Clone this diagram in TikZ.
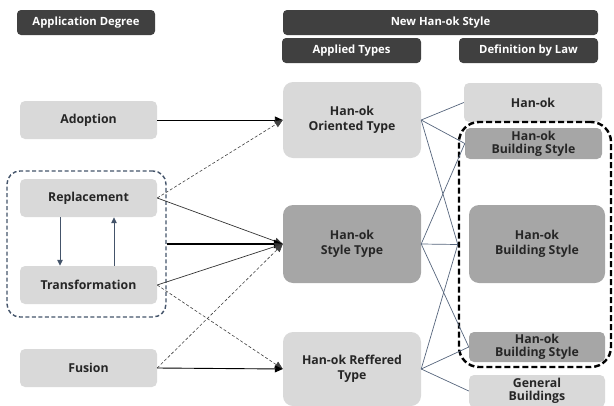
\documentclass[tikz,border=0pt]{standalone}
\usepackage{fontspec}
\setmainfont{Open Sans}
\usetikzlibrary{arrows.meta}
\definecolor{hdr}{HTML}{404040}
\definecolor{lgray}{HTML}{D9D9D9}
\definecolor{dgray}{HTML}{A6A6A6}
\definecolor{slate}{HTML}{44546A}
\definecolor{linkc}{HTML}{56657C}
\definecolor{txt}{HTML}{262626}
\begin{document}
\begin{tikzpicture}[x=1pt,y=-1pt,
  box/.style={rectangle,rounded corners=5pt,inner sep=0pt,align=center,
     font=\fontsize{12.3}{15}\selectfont\bfseries,text=txt},
  hbox/.style={box,fill=hdr,text=white,rounded corners=4pt,font=\fontsize{11.3}{13}\selectfont\bfseries},
  lbox/.style={box,fill=lgray},
  dbox/.style={box,fill=dgray},
  sbox/.style={font=\fontsize{12.3}{12.8}\selectfont\bfseries},
  arr/.style={-{Triangle[length=8pt,width=7pt]},draw=black,line width=0.9pt},
  darr/.style={-{Triangle[length=8pt,width=7pt]},draw=black!75,line width=0.6pt,dash pattern=on 3pt off 2pt},
  sarr/.style={-{Triangle[length=8pt,width=7pt]},draw=black!80,line width=0.7pt},
  link/.style={draw=linkc,line width=0.7pt},
  garr/.style={-{Triangle[length=6pt,width=5.5pt]},draw=slate,line width=1pt}
]
\useasboundingbox (0,0) rectangle (614,405);
% headers
\node[hbox,minimum width=138,minimum height=25] (hdrA) at (86,22.5) {Application Degree};
\node[hbox,minimum width=315,minimum height=25] (hdrN) at (440.5,22.5) {New Han-ok Style};
\node[hbox,minimum width=139,minimum height=25] (hdrT) at (351.5,50.5) {Applied Types};
\node[hbox,minimum width=139,minimum height=25] (hdrL) at (528.5,50.5) {Definition by Law};
% left column
\node[lbox,minimum width=137,minimum height=38] (adopt) at (88.5,120) {Adoption};
\node[lbox,minimum width=137,minimum height=38] (repl) at (88.5,198) {Replacement};
\node[lbox,minimum width=137,minimum height=38] (trans) at (88.5,285) {Transformation};
\node[lbox,minimum width=137,minimum height=38] (fusion) at (88.5,368) {Fusion};
\node[draw=slate,dash pattern=on 4pt off 2.5pt,line width=1.4pt,rounded corners=13pt,minimum width=159,minimum height=146,inner sep=0pt] (grp) at (86.5,244) {};
% middle column
\node[lbox,rounded corners=10pt,minimum width=138,minimum height=76] (orient) at (352,120) {Han-ok\\Oriented Type};
\node[dbox,rounded corners=10pt,minimum width=138,minimum height=78] (style) at (352,244) {Han-ok\\Style Type};
\node[lbox,rounded corners=10pt,minimum width=138,minimum height=74] (reff) at (352,369) {Han-ok Reffered\\Type};
% right column
\node[lbox,minimum width=138,minimum height=39] (hanok) at (533,102.5) {Han-ok};
\node[dbox,sbox,minimum width=137,minimum height=31] (topbs) at (533.5,143.5) {Han-ok\\Building Style};
\node[dbox,rounded corners=10pt,minimum width=136,minimum height=78] (midbs) at (537,244) {Han-ok\\Building Style};
\node[dbox,sbox,minimum width=136,minimum height=30] (botbs) at (537,347) {Han-ok\\Building Style};
\node[lbox,sbox,minimum width=136,minimum height=32] (gen) at (537,391) {General\\Buildings};
\node[draw=black,dash pattern=on 6pt off 3pt,line width=2.4pt,rounded corners=20pt,minimum width=152,minimum height=245,inner sep=0pt] (lawgrp) at (535,244.5) {};
% group internal arrows
\draw[garr] ([xshift=-28.5pt]repl.south) -- ([xshift=-28.5pt]trans.north);
\draw[garr] ([xshift=25.5pt]trans.north) -- ([xshift=25.5pt]repl.south);
% left to middle
\draw[arr] (adopt.east) -- (orient.west);
\draw[darr] (repl.east) -- (orient.west);
\draw[sarr] (repl.east) -- (style.west);
\draw[-{Triangle[length=9pt,width=8pt]},line width=2.4pt] (grp.east) -- (style.west);
\draw[sarr] (trans.east) -- (style.west);
\draw[darr] (trans.east) -- (reff.west);
\draw[darr] (fusion.east) -- (style.west);
\draw[arr] (fusion.east) -- (reff.west);
% middle to right
\draw[link] (orient.east) -- (hanok.west);
\draw[link] (orient.east) -- (topbs.west);
\draw[link] (orient.east) -- (lawgrp.west);
\draw[link] (style.east) -- (topbs.west);
\draw[link] (style.east) -- (lawgrp.west);
\draw[link] (style.east) -- (botbs.west);
\draw[link] (reff.east) -- (lawgrp.west);
\draw[link] (reff.east) -- (botbs.west);
\draw[link] (reff.east) -- (gen.west);
\end{tikzpicture}
\end{document}
